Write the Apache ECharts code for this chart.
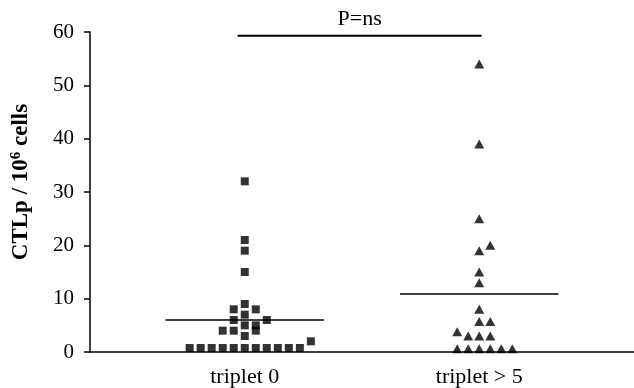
<!DOCTYPE html>
<html>
<head>
<meta charset="utf-8">
<script src="https://cdn.jsdelivr.net/npm/echarts@6/dist/echarts.min.js"></script>
<style>
  html, body { margin: 0; padding: 0; background: #fff; }
  #chart { width: 634px; height: 388px; }
</style>
</head>
<body>
<div id="chart"></div>
<script>
// groups on the x axis (1 = triplet 0, 2 = triplet > 5)
var groups = ['triplet 0', 'triplet > 5'];

// triplet 0 : CTLp values and their column in the dot plot
var t0Vals = [32, 21, 19, 15, 9, 8, 8, 7, 6, 6, 5, 5, 4, 4, 4, 3, 2,
              0.75, 0.75, 0.75, 0.75, 0.75, 0.75, 0.75, 0.75, 0.75, 0.75, 0.75];
var t0Cols = [0, 0, 0, 0, 0, -1, 1, 0, -1, 2, 0, 1, -2, -1, 1, 0, 6,
              -5, -4, -3, -2, -1, 0, 1, 2, 3, 4, 5];

// triplet > 5
var t5Vals = [54, 39, 25, 20, 19, 15, 13, 8, 5.7, 5.7, 3.8, 3, 3, 3,
              0.6, 0.6, 0.6, 0.6, 0.6, 0.6];
var t5Cols = [0, 0, 0, 1, 0, 0, 0, 0, 0, 1, -2, -1, 0, 1,
              -2, -1, 0, 1, 2, 3];

// medians drawn as horizontal bars
var medians = [6, 11];

// significance bar
var pLabel = 'P=ns';
var pBar = { from: 0.97, to: 2.01, y: 59.3 };

var yTicks = [0, 10, 20, 30, 40, 50, 60];

var colStep = 0.047;
var medHalf = 0.338;
var font = 'Liberation Serif';

function points(vals, cols, g) {
  var out = [];
  for (var i = 0; i < vals.length; i++) {
    out.push([g + cols[i] * colStep, vals[i]]);
  }
  return out;
}

var medLines = [];
medians.forEach(function (m, i) {
  medLines.push([{ coord: [i + 1 - medHalf, m] }, { coord: [i + 1 + medHalf, m] }]);
});

var option = {
  animation: false,
  backgroundColor: '#fff',
  grid: { left: 90, right: 0, top: 32, bottom: 35 },
  xAxis: {
    type: 'value',
    min: 0.34,
    max: 2.66,
    splitLine: { show: false },
    axisLine: { lineStyle: { color: '#000', width: 1.5 } },
    axisTick: { show: false },
    axisLabel: {
      customValues: [1, 2],
      formatter: function (v) { return groups[Math.round(v) - 1]; },
      color: '#000',
      fontFamily: font,
      fontSize: 22,
      margin: 14
    }
  },
  yAxis: {
    type: 'value',
    min: 0,
    max: 60,
    interval: 10,
    splitLine: { show: false },
    axisLine: { show: true, lineStyle: { color: '#000', width: 1.5 } },
    axisTick: { show: true, length: 6, lineStyle: { color: '#000', width: 1.5 } },
    axisLabel: {
      color: '#000',
      fontFamily: font,
      fontSize: 21,
      margin: 16,
      formatter: function (v) { return yTicks.indexOf(v) >= 0 ? String(v) : ''; }
    },
    name: '{a|CTLp / 10}{s|6}{a| cells}',
    nameLocation: 'middle',
    nameRotate: 90,
    nameGap: 56,
    nameTextStyle: {
      padding: [0, 0, 0, 20],
      rich: {
        a: { fontFamily: font, fontWeight: 'bold', fontSize: 23, color: '#000' },
        s: { fontFamily: font, fontWeight: 'bold', fontSize: 15, color: '#000', padding: [0, 0, 10, 0] }
      }
    }
  },
  series: [
    {
      type: 'scatter',
      name: groups[0],
      symbol: 'rect',
      symbolSize: 8,
      itemStyle: { color: '#000' },
      data: points(t0Vals, t0Cols, 1),
      markLine: {
        silent: true,
        symbol: 'none',
        label: { show: false },
        lineStyle: { color: '#000', width: 1.5, type: 'solid' },
        data: medLines
      }
    },
    {
      type: 'scatter',
      name: groups[1],
      symbol: 'triangle',
      symbolSize: [10, 9],
      itemStyle: { color: '#000' },
      data: points(t5Vals, t5Cols, 2)
    },
    {
      type: 'line',
      symbol: 'none',
      silent: true,
      lineStyle: { color: '#000', width: 2 },
      data: [[pBar.from, pBar.y], [pBar.to, pBar.y]],
      markPoint: {
        symbol: 'circle',
        symbolSize: 1,
        itemStyle: { color: 'rgba(0,0,0,0)' },
        label: {
          show: true,
          position: 'top',
          distance: 5,
          formatter: pLabel,
          color: '#000',
          fontFamily: font,
          fontSize: 22
        },
        data: [{ coord: [(pBar.from + pBar.to) / 2, pBar.y] }]
      }
    }
  ]
};

var chart = echarts.init(document.getElementById('chart'));
chart.setOption(option);
</script>
</body>
</html>
